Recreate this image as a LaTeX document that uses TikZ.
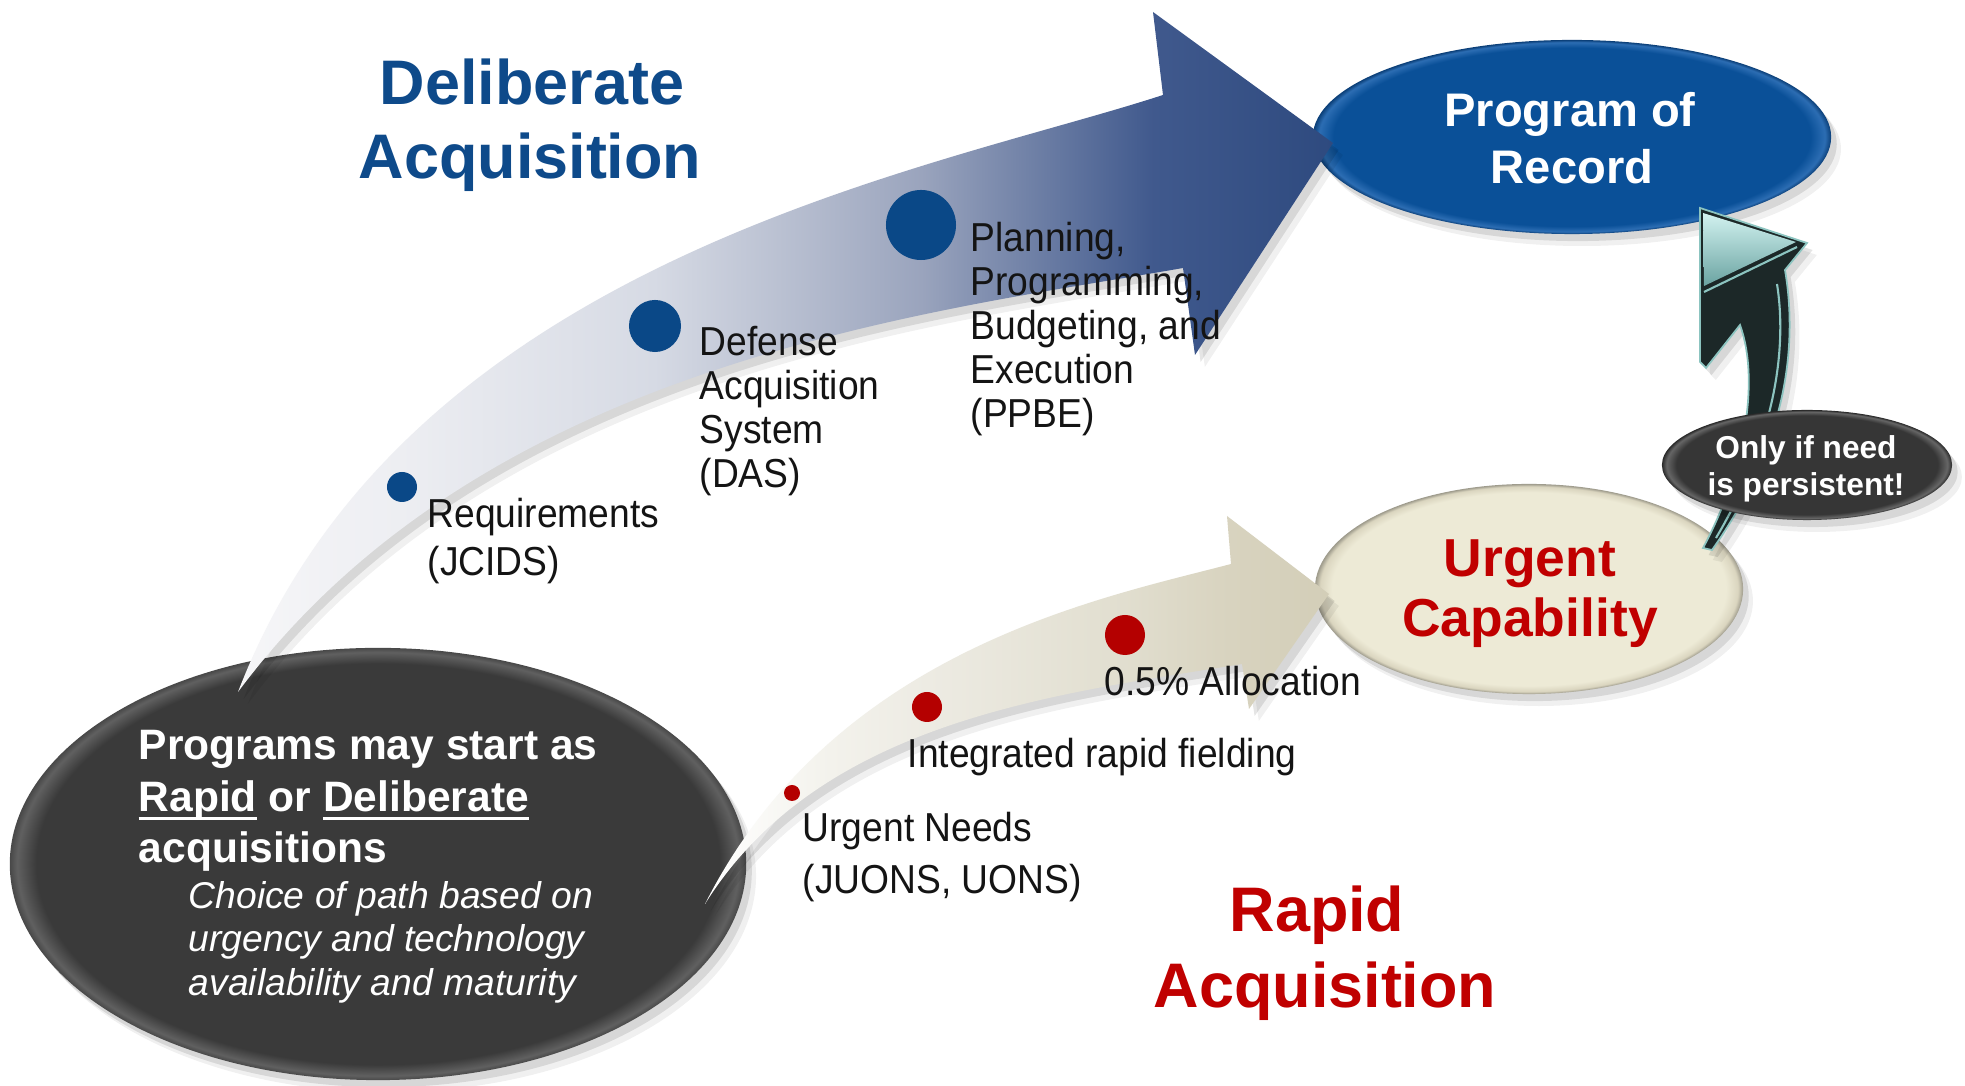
\documentclass[tikz,border=0pt]{standalone}
\usepackage{fontspec}
\setmainfont{Liberation Sans}
\newfontfamily\labfont[FakeStretch=0.92]{Liberation Sans}
\usetikzlibrary{shapes.geometric}

\definecolor{titleblue}{RGB}{14,74,138}
\definecolor{dotblue}{RGB}{10,72,135}
\definecolor{rapidred}{RGB}{192,0,0}
\definecolor{dotred}{RGB}{180,0,0}
\definecolor{labblack}{RGB}{20,20,20}
% deliberate arrow gradient
\definecolor{dA}{RGB}{246,246,248}
\definecolor{dB}{RGB}{237,238,242}
\definecolor{dC}{RGB}{214,218,228}
\definecolor{dD}{RGB}{154,164,189}
\definecolor{dE}{RGB}{64,89,141}
\definecolor{dF}{RGB}{46,74,127}
% rapid arrow gradient
\definecolor{rA}{RGB}{255,255,255}
\definecolor{rB}{RGB}{243,242,236}
\definecolor{rC}{RGB}{237,235,227}
\definecolor{rD}{RGB}{225,222,207}
\definecolor{rE}{RGB}{216,211,191}
\definecolor{rF}{RGB}{211,206,184}
% ellipses
\definecolor{porC}{RGB}{10,80,152}
\definecolor{porR}{RGB}{44,109,179}
\definecolor{porE}{RGB}{11,63,120}
\definecolor{urgC}{RGB}{237,234,214}
\definecolor{urgR}{RGB}{218,213,191}
\definecolor{urgE}{RGB}{158,155,140}
\definecolor{bubC}{RGB}{58,58,58}
\definecolor{bubR}{RGB}{96,96,96}
\definecolor{bubE}{RGB}{72,72,72}
\definecolor{onlyC}{RGB}{54,54,54}
\definecolor{onlyR}{RGB}{102,102,102}
\definecolor{onlyE}{RGB}{42,42,42}
\definecolor{arrdark}{RGB}{28,40,40}
\definecolor{arrlight}{RGB}{140,196,192}
\definecolor{facetT}{RGB}{210,242,240}
\definecolor{facetB}{RGB}{106,163,161}

\pgfdeclarehorizontalshading{delibshade}{100bp}{color(0bp)=(dA); color(25bp)=(dA); color(32.4bp)=(dB); color(44bp)=(dC); color(56.2bp)=(dD); color(66.8bp)=(dE); color(75bp)=(dF); color(100bp)=(dF)}
\pgfdeclarehorizontalshading{rapidshade}{100bp}{color(0bp)=(rA); color(25bp)=(rA); color(35bp)=(rB); color(42.8bp)=(rC); color(58.6bp)=(rD); color(67bp)=(rE); color(75bp)=(rF); color(100bp)=(rF)}
\pgfdeclareradialshading{porshade}{\pgfpoint{0bp}{0bp}}{color(0bp)=(porC); color(23bp)=(porC); color(24.4bp)=(porR); color(25bp)=(porE); color(50bp)=(porE)}
\pgfdeclareradialshading{urgshade}{\pgfpoint{0bp}{0bp}}{color(0bp)=(urgC); color(23bp)=(urgC); color(24.4bp)=(urgR); color(25bp)=(urgE); color(50bp)=(urgE)}
\pgfdeclareradialshading{bubshade}{\pgfpoint{0bp}{0bp}}{color(0bp)=(bubC); color(23.2bp)=(bubC); color(24.5bp)=(bubR); color(25bp)=(bubE); color(50bp)=(bubE)}
\pgfdeclareradialshading{onlyshade}{\pgfpoint{0bp}{0bp}}{color(0bp)=(onlyC); color(22.5bp)=(onlyC); color(24.2bp)=(onlyR); color(25bp)=(onlyE); color(50bp)=(onlyE)}

\newcommand\myul[1]{\setbox0\hbox{#1}\rlap{\rule[-2.2pt]{\wd0}{0.9pt}}\box0\relax}

\begin{document}
\begin{tikzpicture}[x=0.01cm, y=-0.01cm,
  softshadow/.style={preaction={fill=black, opacity=0.10, transform canvas={shift={(1.6pt,-2.0pt)}}},
                     preaction={fill=black, opacity=0.06, transform canvas={shift={(2.8pt,-3.4pt)}}}},
  blob/.style={ellipse, shade, inner sep=0pt, outer sep=0pt},
  dot/.style={circle, inner sep=0pt, outer sep=0pt},
  lab/.style={anchor=base west, inner sep=0pt, text=labblack, font=\labfont\fontsize{11.5pt}{13pt}\selectfont},
  title/.style={anchor=base, inner sep=0pt, font=\bfseries\fontsize{17.9pt}{21pt}\selectfont},
  bubbold/.style={anchor=base west, inner sep=0pt, text=white, font=\bfseries\fontsize{12.1pt}{14pt}\selectfont},
  bubit/.style={anchor=base west, inner sep=0pt, text=white, font=\itshape\fontsize{10.6pt}{12.5pt}\selectfont}]

\useasboundingbox (0,0) rectangle (1965,1086);
\fill[white] (0,0) rectangle (1965,1086);

% ---------- ellipses ----------
\node[blob, shading=bubshade, softshadow, minimum width=7.36cm, minimum height=4.32cm] (start) at (378,864) {};
\node[blob, shading=porshade, softshadow, minimum width=5.18cm, minimum height=1.94cm] (por) at (1572,137) {};
\node[blob, shading=urgshade, softshadow, minimum width=4.28cm, minimum height=2.10cm] (urg) at (1529,589) {};

% ---------- persistence arrow ----------
\path[fill=arrdark, draw=arrlight, line width=0.5pt, softshadow]
  (1700,208) -- (1807,243) -- (1785,270)
  .. controls (1797,340) and (1790,440) .. (1712,550) -- (1703,548)
  .. controls (1745,470) and (1760,380) .. (1740,325)
  -- (1706,368) -- (1700,362) -- cycle;
\shade[top color=facetT, bottom color=facetB] (1703,213) -- (1796,242) -- (1704,286) -- cycle;
\draw[arrlight, line width=0.6pt] (1777,284) .. controls (1786,340) and (1780,430) .. (1716,538);
\draw[arrlight, line width=0.6pt] (1704,292) -- (1797,247);

\node[blob, shading=onlyshade, softshadow, minimum width=2.90cm, minimum height=1.10cm] (only) at (1807,465) {};

% ---------- big arrows ----------
\shade[shading=delibshade, softshadow]
  (238,692) .. controls (405,258) and (933,170) .. (1163,95)
  -- (1153,12) -- (1333,143) -- (1195,355) -- (1183,268)
  .. controls (933,312) and (485,360) .. (238,692) -- cycle;
\shade[shading=rapidshade, softshadow]
  (705,904) .. controls (834,649) and (1102,598) .. (1231,564)
  -- (1227,516) -- (1329,594) -- (1249,709) -- (1242,664)
  .. controls (1057,694) and (820,720) .. (705,904) -- cycle;

% ---------- dots ----------
\node[dot, fill=dotblue, minimum size=0.30cm] (dreq) at (402,487) {};
\node[dot, fill=dotblue, minimum size=0.52cm] (ddas) at (655,326) {};
\node[dot, fill=dotblue, minimum size=0.70cm] (dppbe) at (921,225) {};
\node[dot, fill=dotred, minimum size=0.16cm] (dun) at (792,793) {};
\node[dot, fill=dotred, minimum size=0.30cm] (dirf) at (927,707) {};
\node[dot, fill=dotred, minimum size=0.40cm] (dall) at (1125,635) {};

% ---------- labels ----------
\node[lab] (req1) at (427,528) {Requirements};
\node[lab] (req2) at (427,576) {(JCIDS)};
\node[lab] (das1) at (699,356) {Defense};
\node[lab] (das2) at (699,400) {Acquisition};
\node[lab] (das3) at (699,444) {System};
\node[lab] (das4) at (699,488) {(DAS)};
\node[lab] (pp1) at (970,252) {Planning,};
\node[lab] (pp2) at (970,296) {Programming,};
\node[lab] (pp3) at (970,340) {Budgeting, and};
\node[lab] (pp4) at (970,384) {Execution};
\node[lab] (pp5) at (970,428) {(PPBE)};
\node[lab] (alloc) at (1104,696) {0.5\% Allocation};
\node[lab] (irf) at (907,768) {Integrated rapid fielding};
\node[lab] (un1) at (802,842) {Urgent Needs};
\node[lab] (un2) at (802,894) {(JUONS, UONS)};

% ---------- titles ----------
\node[title, text=titleblue] (delib1) at (532,105) {Deliberate};
\node[title, text=titleblue] (delib2) at (530,179) {Acquisition};
\node[title, text=rapidred] (rapid1) at (1317,932) {Rapid};
\node[title, text=rapidred] (rapid2) at (1325,1008) {Acquisition};

% ---------- ellipse texts ----------
\node[anchor=base, inner sep=0pt, text=white, font=\bfseries\fontsize{13.4pt}{16pt}\selectfont] (por1) at (1570,127) {Program of};
\node[anchor=base, inner sep=0pt, text=white, font=\bfseries\fontsize{13.4pt}{16pt}\selectfont] (por2) at (1572,184) {Record};
\node[anchor=base, inner sep=0pt, text=rapidred, font=\bfseries\fontsize{15.2pt}{18pt}\selectfont] (urg1) at (1530,577) {Urgent};
\node[anchor=base, inner sep=0pt, text=rapidred, font=\bfseries\fontsize{15.2pt}{18pt}\selectfont] (urg2) at (1530,637) {Capability};
\node[anchor=base, inner sep=0pt, text=white, font=\bfseries\fontsize{9pt}{11pt}\selectfont] (only1) at (1806,459) {Only if need};
\node[anchor=base, inner sep=0pt, text=white, font=\bfseries\fontsize{9pt}{11pt}\selectfont] (only2) at (1806,496) {is persistent!};

\node[bubbold] (s1) at (138,760) {Programs may start as};
\node[bubbold] (s2) at (138,812) {\myul{Rapid} or \myul{Deliberate}};
\node[bubbold] (s3) at (138,863) {acquisitions};
\node[bubit] (s4) at (188,909) {Choice of path based on};
\node[bubit] (s5) at (188,952) {urgency and technology};
\node[bubit] (s6) at (188,996) {availability and maturity};
\end{tikzpicture}
\end{document}
